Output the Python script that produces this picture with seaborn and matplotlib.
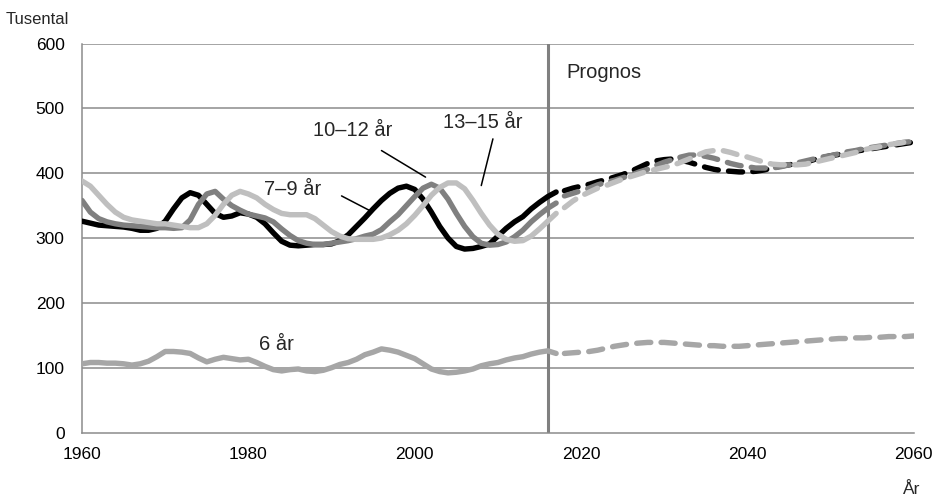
import seaborn as sns
import pandas as pd
import matplotlib.pyplot as plt

# Observed years and forecast years
years_hist = list(range(1960, 2018))
years_prog = list(range(2018, 2061))

# Population by age group, thousands
age6_hist = [106, 108, 108, 107, 107, 106, 104, 106, 110, 117,
             125, 125, 124, 122, 115, 109, 113, 116, 114, 112,
             113, 108, 102, 97, 95, 97, 98, 95, 94, 96,
             100, 105, 108, 113, 120, 124, 129, 127, 124, 119,
             114, 106, 98, 94, 92, 93, 95, 98, 103, 106,
             108, 112, 115, 117, 121, 124, 126, 122]
age7_9_hist = [326, 323, 320, 319, 318, 317, 315, 312, 312, 315,
               326, 345, 362, 370, 366, 352, 338, 332, 334, 339,
               337, 332, 322, 308, 295, 289, 288, 289, 290, 290,
               291, 296, 305, 318, 331, 345, 358, 369, 377, 380,
               375, 360, 340, 318, 300, 287, 283, 284, 287, 291,
               303, 315, 325, 333, 345, 355, 364, 371]
age10_12_hist = [358, 340, 330, 325, 322, 320, 319, 318, 317, 316,
                 316, 315, 316, 328, 352, 368, 372, 360, 350, 343,
                 337, 334, 331, 325, 314, 304, 296, 292, 290, 290,
                 292, 294, 296, 299, 303, 306, 313, 325, 336, 350,
                 364, 377, 383, 377, 360, 338, 318, 302, 292, 289,
                 290, 294, 302, 312, 325, 336, 346, 354]
age13_15_hist = [388, 380, 366, 352, 340, 332, 328, 326, 324, 322,
                 322, 320, 318, 316, 316, 322, 335, 352, 366, 372,
                 368, 362, 352, 344, 338, 336, 336, 336, 330, 320,
                 310, 303, 299, 298, 298, 298, 300, 305, 312, 322,
                 335, 350, 366, 378, 385, 385, 376, 358, 338, 320,
                 306, 298, 295, 296, 303, 314, 326, 338]

age6_prog = [122, 123, 124, 125, 127, 130, 133, 135, 137, 138,
             139, 139, 139, 138, 137, 136, 135, 134, 134, 133,
             133, 133, 134, 135, 136, 137, 138, 139, 140, 141,
             142, 143, 144, 145, 145, 146, 146, 147, 147, 148,
             148, 148, 149]
age7_9_prog = [373, 377, 380, 383, 387, 390, 394, 398, 403, 409,
               415, 419, 421, 422, 420, 417, 413, 409, 406, 404,
               403, 402, 402, 403, 405, 408, 411, 413, 415, 417,
               421, 424, 427, 429, 431, 434, 436, 438, 440, 442,
               444, 446, 448]
age10_12_prog = [365, 369, 373, 377, 382, 386, 389, 393, 397, 402,
                 406, 412, 417, 421, 425, 428, 428, 426, 423, 419,
                 415, 412, 410, 408, 408, 408, 410, 413, 416, 419,
                 422, 425, 427, 430, 433, 435, 438, 440, 442, 444,
                 446, 448, 449]
age13_15_prog = [347, 357, 365, 371, 377, 381, 386, 391, 395, 399,
                 403, 406, 409, 412, 417, 422, 428, 433, 435, 435,
                 432, 428, 425, 421, 417, 414, 413, 413, 413, 414,
                 417, 420, 423, 426, 429, 432, 436, 439, 441, 444,
                 446, 448, 449]

series = [
    (age6_hist, age6_prog, '#a6a6a6'),
    (age7_9_hist, age7_9_prog, '#000000'),
    (age10_12_hist, age10_12_prog, '#808080'),
    (age13_15_hist, age13_15_prog, '#bfbfbf'),
]

sns.set_style('white')
plt.rcParams['font.family'] = ['Liberation Sans', 'DejaVu Sans']

fig = plt.figure(figsize=(9.43, 5.01), dpi=100)
ax = fig.add_axes([0.087, 0.1367, 0.882, 0.7763])

grid_col = '#8c8c8c'
for v in range(100, 700, 100):
    ax.axhline(v, color=grid_col, lw=1.1, zorder=1)

for hist, prog, col in series:
    sns.lineplot(x=years_hist, y=hist, color=col, lw=3.9, ax=ax,
                 solid_capstyle='round', solid_joinstyle='round', zorder=3)
    sns.lineplot(x=years_prog, y=prog, color=col, lw=3.9, ax=ax, zorder=3)
    line = ax.lines[-1]
    line.set_dashes((2.6, 1.9))
    line.set_dash_capstyle('round')

# Start of forecast
ax.axvline(2016, ymin=0, ymax=1, color='#808080', lw=2.2, zorder=2)

ax.set_xlim(1960, 2060)
ax.set_ylim(0, 600)
ax.set_xticks(range(1960, 2061, 20))
ax.set_yticks(range(0, 601, 100))
ax.tick_params(axis='both', labelsize=12.5, colors='black', length=4.5,
               width=1.1, direction='out', pad=6)
ax.tick_params(axis='x', color=grid_col)
ax.tick_params(axis='y', color=grid_col, pad=8)
for s in ['top', 'right']:
    ax.spines[s].set_visible(False)
for s in ['left', 'bottom']:
    ax.spines[s].set_color(grid_col)
    ax.spines[s].set_linewidth(1.1)
ax.set_xlabel('')
ax.set_ylabel('')

fig.text(0.006, 0.962, 'Tusental', fontsize=12, ha='left', va='center')
fig.text(0.976, 0.022, 'År', fontsize=12.5, ha='right', va='center')

lab = 14.5
ax.text(2018.2, 555, 'Prognos', fontsize=lab, ha='left', va='center')
ax.text(1985.3, 375, '7–9 år', fontsize=lab, ha='center', va='center')
ax.text(1992.5, 466, '10–12 år', fontsize=lab, ha='center', va='center')
ax.text(2008.2, 479, '13–15 år', fontsize=lab, ha='center', va='center')
ax.text(1983.4, 136, '6 år', fontsize=lab, ha='center', va='center')

# Pointer lines to the labelled series
ax.plot([1991.2, 1994.8], [365, 341], color='black', lw=1.1)
ax.plot([1996.0, 2001.3], [435, 394], color='black', lw=1.1)
ax.plot([2009.4, 2008.0], [453, 381], color='black', lw=1.1)

fig.savefig('out.png', dpi=100)
